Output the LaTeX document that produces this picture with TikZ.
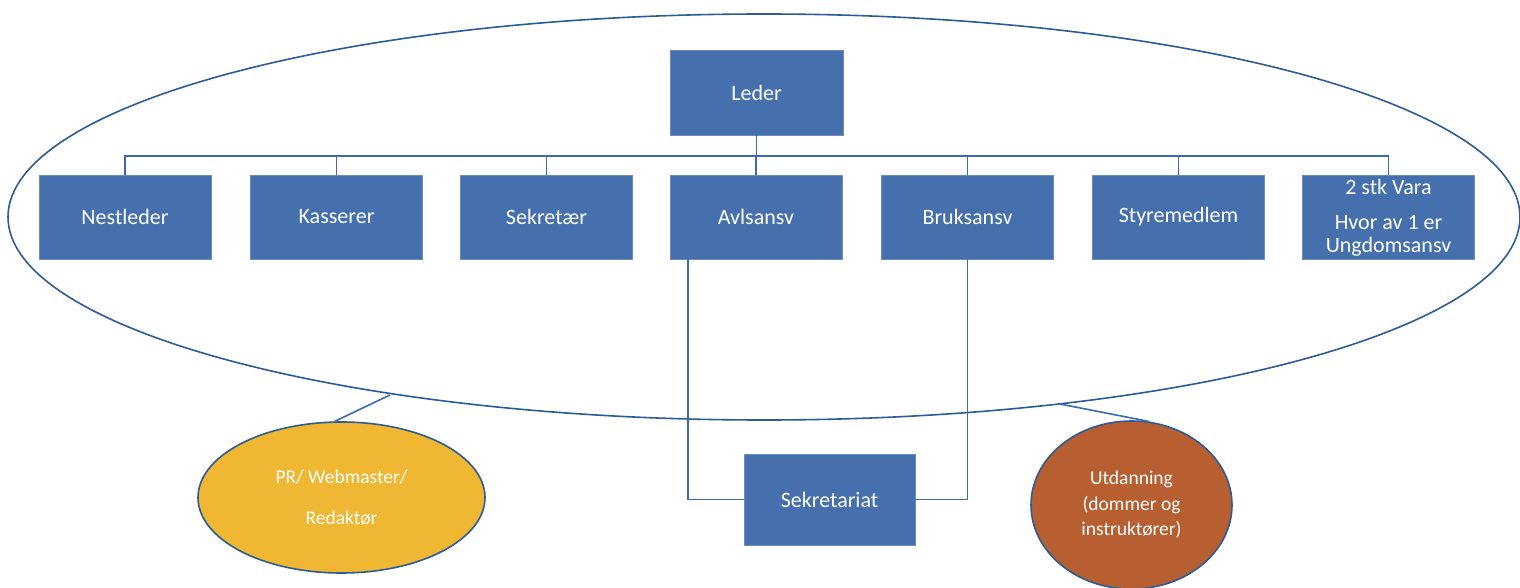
\documentclass[tikz,border=0pt]{standalone}
\usepackage{fontspec}
\setmainfont{Carlito}
\usetikzlibrary{shapes.geometric}
\definecolor{boxblue}{HTML}{4570AD}
\definecolor{lineblue}{HTML}{3C6AAE}
\definecolor{edgeblue}{HTML}{2D5B96}
\definecolor{prfill}{HTML}{F0B732}
\definecolor{utfill}{HTML}{B85F32}
\tikzset{
  orgbox/.style={rectangle, fill=boxblue, draw=boxblue!80!white, line width=0.8pt,
    minimum width=172pt, minimum height=84pt, inner sep=2pt,
    text=white, font=\fontsize{22}{23}\selectfont, align=center},
  link/.style={draw=lineblue, line width=1.6pt},
  oval/.style={ellipse, draw=edgeblue, line width=1.6pt, inner sep=0pt,
    text=white, font=\fontsize{19.5}{25.5}\selectfont, align=center}
}
\begin{document}
\begin{tikzpicture}[x=1pt,y=-1pt]
\useasboundingbox (0,0) rectangle (1520,588);
% big ellipse
\node[ellipse, draw=edgeblue, line width=1.6pt, minimum width=1512pt, minimum height=406pt] (big) at (764,217) {};
% boxes
\node[orgbox, minimum width=173pt, minimum height=85pt] (leder) at (756.5,92.5) {Leder};
\node[orgbox] (nest) at (125,217) {Nestleder};
\node[orgbox] (kas) at (336.5,217) {Kasserer};
\node[orgbox] (sekr) at (546.5,217) {Sekretær};
\node[orgbox] (avl) at (756,217) {Avlsansv};
\node[orgbox] (bru) at (967.5,217) {Bruksansv};
\node[orgbox] (sty) at (1178.5,217) {Styremedlem};
\node[orgbox, text depth=2pt] (vara) at (1388.5,217) {2 stk Vara\\[12pt]Hvor av 1 er\\Ungdomsansv};
\node[orgbox, minimum width=171pt, minimum height=91pt] (sek) at (829.5,499.5) {Sekretariat};
% ovals
\node[oval, fill=prfill, minimum width=287pt, minimum height=151pt] (pr) at (341.5,497.5) {PR/ Webmaster/\\[16pt]Redaktør};
\node[oval, fill=utfill, minimum width=201pt, minimum height=168pt] (ut) at (1131.5,505) {Utdanning\\(dommer og\\instruktører)};
% tree connectors
\foreach \c in {nest,kas,sekr,avl,bru,sty,vara}{
  \draw[link] (leder.south) -- (leder.south |- 0,156) -| (\c.north);
}
% Sekretariat connectors
\draw[link] ([xshift=-68pt]avl.south) |- (sek.west);
\draw[link] (bru.south) |- (sek.east);
% oval connectors
\coordinate (c1) at (390,395);
\coordinate (c2) at (1060,404);
\draw[link] (c1) -- (pr.95);
\draw[link] (c2) -- (ut.78);
\end{tikzpicture}
\end{document}
